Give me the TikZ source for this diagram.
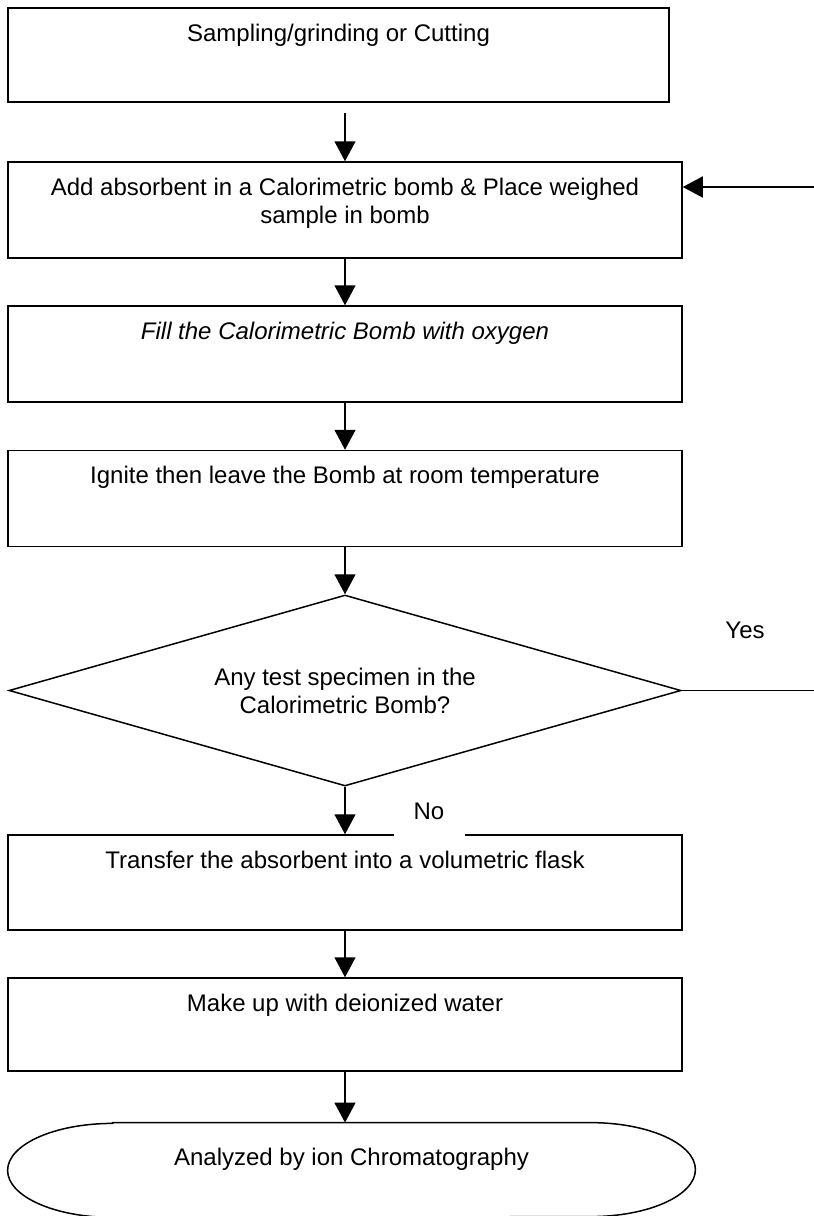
\documentclass[tikz,border=0pt]{standalone}
\usepackage{fontspec}
\setmainfont{Liberation Sans}
\usetikzlibrary{arrows.meta, shapes.geometric, calc}

\begin{document}
\begin{tikzpicture}[x=0.5pt, y=-0.5pt, font=\fontsize{12}{14}\selectfont,
  stepbox/.style={draw, line width=0.75pt, minimum width=337pt, minimum height=48pt, inner sep=0pt},
  boxtext/.style={anchor=north, yshift=-8pt, align=center, inner sep=0pt},
  arr/.style={-{Triangle[length=10pt,width=10.5pt]}, line width=0.75pt}]
  \useasboundingbox (0,0) rectangle (814,1216);
  % boxes
  \node[stepbox, minimum width=330.5pt, minimum height=47pt, label={[boxtext]north:Sampling/grinding or Cutting}] (b1) at (338.5,55) {};
  \node[stepbox, label={[boxtext]north:Add absorbent in a Calorimetric bomb \& Place weighed\\sample in bomb}] (b2) at (345,210) {};
  \node[stepbox, label={[boxtext]north:\itshape Fill the Calorimetric Bomb with oxygen}] (b3) at (345,354) {};
  \node[stepbox, label={[boxtext]north:Ignite then leave the Bomb at room temperature}] (b4) at (345,498.5) {};
  \node[draw, diamond, line width=0.75pt, aspect=3.5, minimum width=336pt, minimum height=95.5pt, inner sep=0pt, align=center] (dec) at (345,690.5) {Any test specimen in the\\Calorimetric Bomb?};
  \node[stepbox, minimum height=47.5pt, label={[boxtext]north:Transfer the absorbent into a volumetric flask}] (b5) at (345,882.5) {};
  \node[stepbox, minimum height=46.5pt, label={[boxtext]north:Make up with deionized water}] (b6) at (345,1024.5) {};
  % end
  \node[minimum width=343.5pt, minimum height=47pt, inner sep=0pt, label={[yshift=5.5pt]center:Analyzed by ion Chromatography}] (term) at (351.5,1170) {};
  \draw[line width=0.75pt] ($(term.north west)+(105,0)$) -- ($(term.north east)+(-105,0)$)
    arc[start angle=90, end angle=-90, x radius=52.5pt, y radius=23.5pt]
    -- ($(term.south west)+(105,0)$)
    arc[start angle=270, end angle=90, x radius=52.5pt, y radius=23.5pt] -- cycle;
  % arrows
  \coordinate (a1) at (345,113);
  \draw[arr] (a1) -- (b2.north);
  \foreach \a/\b in {b2/b3, b3/b4, b4/dec, dec/b5, b5/b6}
    \draw[arr] (\a.south) -- (\b.north);
  \draw[arr] (b6.south) -- (b6.south |- term.north);
  \coordinate (r1) at (814,187);
  \draw[arr] (r1) -- (b2.east |- r1);
  \coordinate (r2) at (814,690.5);
  \draw[line width=0.75pt] (dec.east) -- (r2);
  % labels
  \node (yes) at (745,630) {Yes};
  \node[fill=white, minimum width=35.5pt, minimum height=25pt, inner sep=0pt] (no) at (429,811) {No};
\end{tikzpicture}
\end{document}
